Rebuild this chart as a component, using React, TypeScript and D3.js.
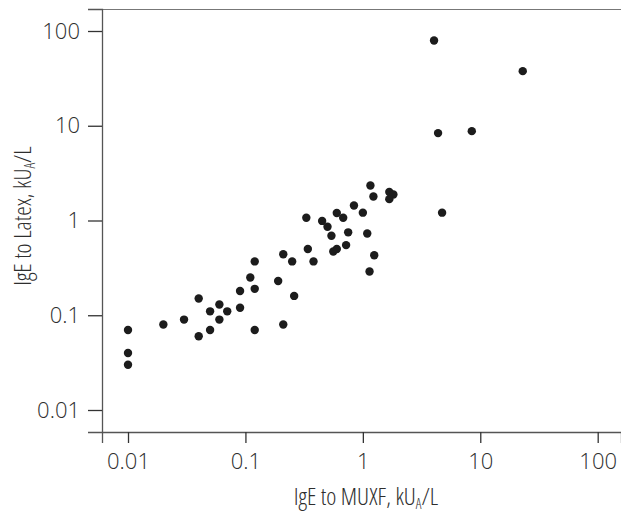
import { useEffect, useRef } from "react";
import * as d3 from "d3";

// IgE to MUXF (x) and IgE to Latex (y), kUA/L
const muxf = [
  0.01, 0.01, 0.01, 0.02, 0.03, 0.04, 0.04, 0.05, 0.05, 0.06,
  0.06, 0.07, 0.09, 0.09, 0.12, 0.11, 0.12, 0.12, 0.19, 0.21,
  0.21, 0.25, 0.26, 0.33, 0.34, 0.38, 0.45, 0.5, 0.54, 0.56,
  0.6, 0.6, 0.68, 0.75, 0.72, 0.84, 1.0, 1.09, 1.14, 1.25,
  1.16, 1.23, 1.68, 1.82, 1.68, 4.04, 23.0, 4.37, 8.47, 4.73,
];
const latex = [
  0.07, 0.04, 0.03, 0.08, 0.09, 0.15, 0.06, 0.11, 0.07, 0.13,
  0.09, 0.11, 0.18, 0.12, 0.37, 0.25, 0.19, 0.07, 0.23, 0.44,
  0.08, 0.37, 0.16, 1.07, 0.5, 0.37, 0.99, 0.86, 0.69, 0.47,
  0.5, 1.2, 1.07, 0.75, 0.55, 1.44, 1.21, 0.73, 0.29, 0.43,
  2.34, 1.79, 2.0, 1.88, 1.68, 79.4, 37.7, 8.36, 8.77, 1.21,
];
const xTicks = [0.01, 0.1, 1, 10, 100];
const yTicks = [0.01, 0.1, 1, 10, 100];

const W = 621;
const H = 514;
const FONT = "'Open Sans', 'Roboto', sans-serif";
const INK = "#2e2e2e";

function App() {
  const svgRef = useRef(null);

  useEffect(() => {
    const svg = d3.select(svgRef.current);
    svg.selectAll("*").remove();

    const left = 102, right = W, top = 9, bottom = 432;

    // log scales, decades at fixed pixel spacing
    const x = d3.scaleLog()
      .domain([0.01 * Math.pow(10, -26 / 117.4), 100 * Math.pow(10, 23.3 / 117.4)])
      .range([left, right]);
    const y = d3.scaleLog()
      .domain([0.01 * Math.pow(10, -22 / 94.75), 100 * Math.pow(10, 22 / 94.75)])
      .range([bottom, top]);

    const fmt = d => String(d);
    const textStyle = sel => sel
      .attr("fill", INK)
      .style("font-family", FONT)
      .style("font-weight", 300);

    // top border
    svg.append("line")
      .attr("x1", left).attr("x2", right)
      .attr("y1", top + 0.5).attr("y2", top + 0.5)
      .attr("stroke", "#777").attr("stroke-width", 1.2);

    const gx = svg.append("g")
      .attr("transform", `translate(0, ${bottom})`)
      .call(d3.axisBottom(x).tickValues(xTicks).tickFormat(fmt)
        .tickSizeOuter(0).tickSize(11).tickPadding(10));

    const gy = svg.append("g")
      .attr("transform", `translate(${left}, 0)`)
      .call(d3.axisLeft(y).tickValues(yTicks).tickFormat(fmt)
        .tickSizeOuter(0).tickSize(14).tickPadding(8));

    [gx, gy].forEach(g => {
      g.select(".domain").attr("stroke", "#555").attr("stroke-width", 1.3);
      g.selectAll(".tick line").attr("stroke", "#333").attr("stroke-width", 1.3);
      g.selectAll(".tick text").call(textStyle)
        .style("font-stretch", "90%")
        .style("font-size", "22px");
    });

    // points
    svg.append("g")
      .selectAll("circle")
      .data(muxf.map((v, i) => [v, latex[i]]))
      .join("circle")
      .attr("cx", d => x(d[0]))
      .attr("cy", d => y(d[1]))
      .attr("r", 4.2)
      .attr("fill", "#1c1c1c");

    // x axis title
    const xt = svg.append("text")
      .attr("x", 366).attr("y", 505)
      .attr("text-anchor", "middle")
      .call(textStyle)
      .style("font-stretch", "85%")
      .style("font-size", "24px");
    xt.append("tspan").text("IgE to MUXF, kU");
    xt.append("tspan").attr("dy", 4).style("font-size", "14px").text("A");
    xt.append("tspan").attr("dy", -4).text("/L");

    // y axis title
    const yt = svg.append("text")
      .attr("transform", `translate(31, 216) rotate(-90)`)
      .attr("text-anchor", "middle")
      .call(textStyle)
      .style("font-stretch", "85%")
      .style("font-size", "24px");
    yt.append("tspan").text("IgE to Latex, kU");
    yt.append("tspan").attr("dy", 4).style("font-size", "14px").text("A");
    yt.append("tspan").attr("dy", -4).text("/L");
  }, []);

  return (
    <svg
      ref={svgRef}
      width={W}
      height={H}
      style={{ position: "absolute", left: 0, top: 0, background: "#fff" }}
    />
  );
}

export default App;
